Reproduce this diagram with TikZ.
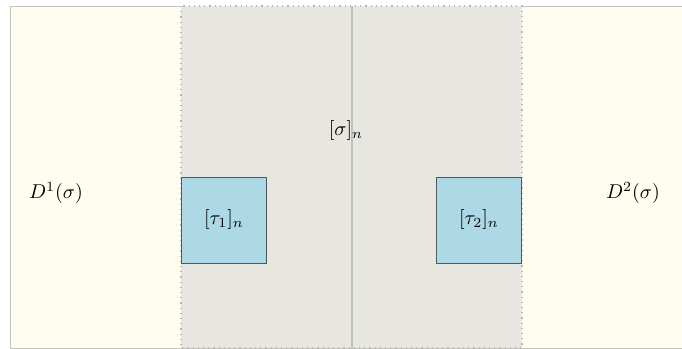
\documentclass[tikz,border=0pt]{standalone}
\usetikzlibrary{positioning,calc}
\definecolor{cream}{HTML}{FFFDEF}
\definecolor{midgray}{HTML}{E8E6E0}
\definecolor{boxblue}{HTML}{ADD8E6}
\definecolor{edgegray}{HTML}{C4C4BA}
\definecolor{dotgray}{HTML}{B8B8B0}
\definecolor{sepgray}{HTML}{C0C0BC}
\definecolor{boxedge}{HTML}{4E5A5A}
\tikzset{
  region/.style={draw=edgegray, line width=0.5pt},
  midregion/.style={fill=midgray, draw=dotgray, dotted, line width=0.6pt},
  cellbox/.style={draw=boxedge, fill=boxblue, line width=0.5pt, minimum width=42.5pt, minimum height=43pt, inner sep=0pt},
  lbl/.style={inner sep=1pt}
}
\begin{document}
\begin{tikzpicture}[x=0.5pt,y=-0.5pt]
\useasboundingbox (0,0) rectangle (682,349);
% outer region
\path[fill=cream] (10,6) rectangle (690,348);
\draw[region] (690,6) -- (10,6) -- (10,348) -- (690,348);
% middle region
\path[midregion] (181,6) rectangle (522,348);
% separator
\coordinate (top) at (352,6);
\coordinate (bot) at (352,348);
\draw[draw=sepgray, line width=0.9pt] (top) -- (bot);
% boxes
\node[cellbox, anchor=north west] (t1) at (181,177) {};
\node[cellbox, anchor=north east] (t2) at (522,177) {};
\node[lbl] at ($(t1.center)+(0,-1)$) {$[\tau_1]_n$};
\node[lbl] at ($(t2.center)+(0,-1)$) {$[\tau_2]_n$};
% labels
\node[lbl] (d1) at (56,193) {$D^1(\sigma)$};
\node[lbl] (d2) at (633,193) {$D^2(\sigma)$};
\node[lbl] (s) at (346,130) {$[\sigma]_n$};
\end{tikzpicture}
\end{document}
